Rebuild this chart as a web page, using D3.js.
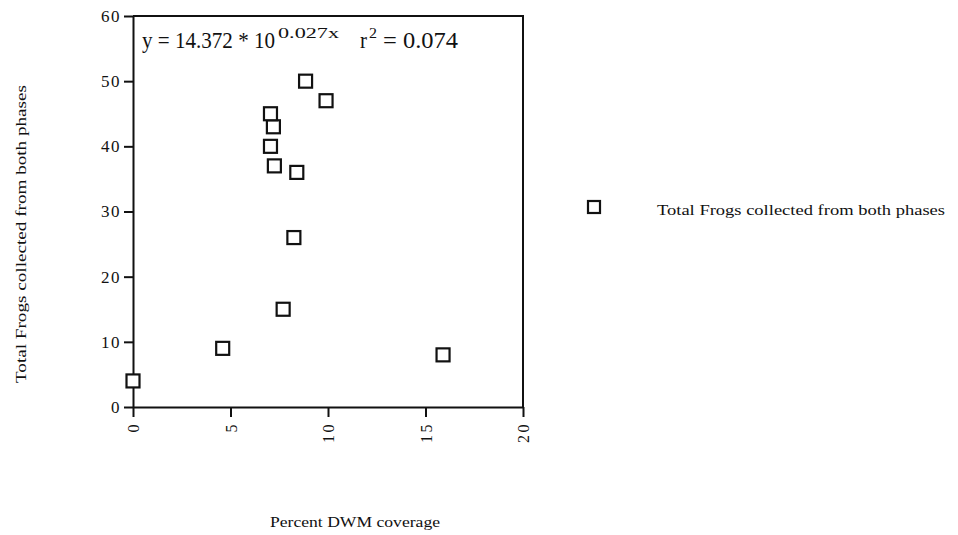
<!DOCTYPE html>
<html>
<head>
<meta charset="utf-8">
<script src="https://cdn.jsdelivr.net/npm/d3@7"></script>
<style>
  body { margin: 0; background: #fff; }
  svg { display: block; font-family: "Liberation Serif", "DejaVu Serif", serif; }
</style>
</head>
<body>
<svg id="chart" width="958" height="535"></svg>
<script>
// Percent DWM coverage vs total frogs
const dwm = [0, 4.6, 7.7, 8.25, 8.4, 7.25, 7.05, 7.2, 7.05, 8.85, 9.9, 15.9];
const frogs = [4, 9, 15, 26, 36, 37, 40, 43, 45, 50, 47, 8];
const xTicks = [0, 5, 10, 15, 20];
const yTicks = [0, 10, 20, 30, 40, 50, 60];
const seriesName = "Total Frogs collected from both phases";

const svg = d3.select("#chart");
const plotLeft = 133, plotRight = 523, plotTop = 16, plotBottom = 407;

const x = d3.scaleLinear().domain([0, 20]).range([plotLeft, plotRight]);
const y = d3.scaleLinear().domain([0, 60]).range([plotBottom, plotTop]);

// frame (top + right)
svg.append("path")
  .attr("d", `M${plotLeft},${plotTop}H${plotRight}V${plotBottom}`)
  .attr("fill", "none")
  .attr("stroke", "#111")
  .attr("stroke-width", 2);

// y axis
const yAxis = svg.append("g")
  .attr("transform", `translate(${plotLeft},0)`)
  .call(d3.axisLeft(y).tickValues(yTicks).tickSize(9).tickPadding(3).tickSizeOuter(0));
yAxis.select(".domain").attr("stroke", "#111").attr("stroke-width", 2);
yAxis.selectAll(".tick line").attr("stroke", "#111").attr("stroke-width", 2);
yAxis.selectAll(".tick text")
  .attr("font-family", "Liberation Serif")
  .attr("font-size", 17)
  .attr("letter-spacing", 1.5)
  .attr("fill", "#111");

// x axis
const xAxis = svg.append("g")
  .attr("transform", `translate(0,${plotBottom})`)
  .call(d3.axisBottom(x).tickValues(xTicks).tickSize(10).tickSizeOuter(0));
xAxis.select(".domain").attr("stroke", "#111").attr("stroke-width", 2);
xAxis.selectAll(".tick line").attr("stroke", "#111").attr("stroke-width", 2);
xAxis.selectAll(".tick text")
  .attr("font-family", "Liberation Serif")
  .attr("font-size", 16)
  .attr("letter-spacing", 2.5)
  .attr("fill", "#111")
  .attr("transform", "rotate(-90)")
  .attr("text-anchor", "end")
  .attr("dy", "0.35em")
  .attr("x", -15)
  .attr("y", 0);

// points
const sq = 13;
svg.append("g").selectAll("rect")
  .data(dwm)
  .join("rect")
  .attr("x", (d) => x(d) - sq / 2)
  .attr("y", (d, i) => y(frogs[i]) - sq / 2)
  .attr("width", sq)
  .attr("height", sq)
  .attr("fill", "#fff")
  .attr("stroke", "#111")
  .attr("stroke-width", 2.2);

// regression equation (one text, superscripts as tspans)
const eqParts = [
  { t: "y = 14.372 * 10", x: 142, len: 133, big: true },
  { t: "0.027x", x: 278, len: 61, big: false },
  { t: "r", x: 360, len: 7, big: true },
  { t: "2", x: 369, len: 8, big: false },
  { t: "= 0.074", x: 383, len: 75, big: true }
];
svg.append("text")
  .attr("fill", "#111")
  .selectAll("tspan")
  .data(eqParts)
  .join("tspan")
  .attr("x", (d) => d.x)
  .attr("y", (d) => d.big ? 48 : 38)
  .attr("font-size", (d) => d.big ? 22.5 : 15)
  .attr("textLength", (d) => d.len)
  .attr("lengthAdjust", "spacingAndGlyphs")
  .text((d) => d.t);

// legend
svg.append("rect")
  .attr("x", 588).attr("y", 201)
  .attr("width", 12).attr("height", 12)
  .attr("fill", "#fff").attr("stroke", "#111").attr("stroke-width", 2.2);
svg.append("text")
  .attr("x", 657).attr("y", 215)
  .attr("font-size", 14)
  .attr("textLength", 288)
  .attr("lengthAdjust", "spacingAndGlyphs")
  .attr("fill", "#111")
  .text(seriesName);

// axis titles
svg.append("text")
  .attr("transform", "translate(26,234) rotate(-90)")
  .attr("text-anchor", "middle")
  .attr("font-size", 14)
  .attr("textLength", 298)
  .attr("lengthAdjust", "spacingAndGlyphs")
  .attr("fill", "#111")
  .text(seriesName);

svg.append("text")
  .attr("x", 270).attr("y", 527)
  .attr("font-size", 14)
  .attr("textLength", 170)
  .attr("lengthAdjust", "spacingAndGlyphs")
  .attr("fill", "#111")
  .text("Percent DWM coverage");
</script>
</body>
</html>
